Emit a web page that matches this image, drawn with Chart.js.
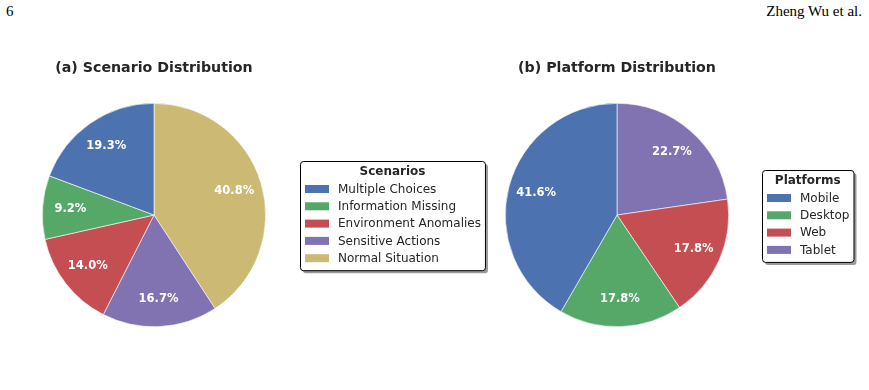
<!DOCTYPE html>
<html>
<head>
<meta charset="utf-8">
<script src="https://cdn.jsdelivr.net/npm/chart.js@4.4.1/dist/chart.umd.min.js"></script>
<style>
  body { margin: 0; background: #fff; width: 869px; height: 390px; position: relative; overflow: hidden; }
  .hdr { position: absolute; top: 3px; font-family: "Liberation Serif", "DejaVu Serif", serif; font-size: 15px; color: #000; }
  canvas { position: absolute; top: 0; }
</style>
</head>
<body>
<div class="hdr" style="left:6px">6</div>
<div class="hdr" style="right:7px">Zheng Wu et al.</div>
<canvas id="chartA" width="500" height="390" style="left:0"></canvas>
<canvas id="chartB" width="369" height="390" style="left:500px"></canvas>
<script>
// data (listed in legend order, matplotlib draws them counter-clockwise from 12 o'clock)
const scenarioLabels = ['Multiple Choices', 'Information Missing', 'Environment Anomalies', 'Sensitive Actions', 'Normal Situation'];
const scenarioValues = [19.3, 9.2, 14.0, 16.7, 40.8];
const platformLabels = ['Mobile', 'Desktop', 'Web', 'Tablet'];
const platformValues = [41.6, 17.8, 17.8, 22.7];
const palette = ['#4C72B0', '#55A868', '#C44E52', '#8172B2', '#CCB974'];

const FONT = '"DejaVu Sans", Verdana, sans-serif';

// percentage text inside each slice
const pctLabels = {
    id: 'pctLabels',
    afterDatasetsDraw(chart) {
        const ctx = chart.ctx;
        const meta = chart.getDatasetMeta(0);
        const vals = chart.data.datasets[0].data;
        ctx.save();
        ctx.fillStyle = '#fff';
        ctx.font = 'bold 11.5px ' + FONT;
        ctx.textAlign = 'center';
        ctx.textBaseline = 'middle';
        meta.data.forEach((arc, i) => {
            const p = arc.getProps(['x', 'y', 'startAngle', 'endAngle', 'outerRadius']);
            const a = (p.startAngle + p.endAngle) / 2;
            const r = p.outerRadius * 0.75;
            ctx.fillText(vals[i].toFixed(1) + '%', p.x + Math.cos(a) * r, p.y + Math.sin(a) * r);
        });
        ctx.restore();
    }
};

// framed legend box like matplotlib's (shadow + border)
const boxLegend = {
    id: 'boxLegend',
    afterDraw(chart, args, opts) {
        const ctx = chart.ctx;
        const names = opts.names, cols = opts.colors;
        const step = 17.3;
        ctx.save();
        ctx.font = '12px ' + FONT;
        let tw = 0;
        names.forEach(n => tw = Math.max(tw, ctx.measureText(n).width));
        const w = 5 + 24 + 9 + tw + 4;
        const h = 28 + (names.length - 1) * step + 12;
        const x = opts.left, y = opts.top;

        ctx.fillStyle = 'rgba(0,0,0,0.4)';
        ctx.beginPath();
        ctx.roundRect(x + 3, y + 3, w, h, 3);
        ctx.fill();
        ctx.fillStyle = '#fff';
        ctx.strokeStyle = '#000';
        ctx.lineWidth = 1;
        ctx.beginPath();
        ctx.roundRect(x + 0.5, y + 0.5, w, h, 3);
        ctx.fill();
        ctx.stroke();

        ctx.fillStyle = '#262626';
        ctx.textBaseline = 'middle';
        ctx.textAlign = 'center';
        ctx.font = 'bold 12px ' + FONT;
        ctx.fillText(opts.title, x + w / 2, y + 10.5);

        ctx.textAlign = 'left';
        ctx.font = '12px ' + FONT;
        names.forEach((n, i) => {
            const ry = y + 28 + i * step;
            ctx.fillStyle = cols[i];
            ctx.fillRect(x + 5, ry - 4, 24, 8);
            ctx.fillStyle = '#262626';
            ctx.fillText(n, x + 38, ry + 0.5);
        });
        ctx.restore();
    }
};

function makePie(id, title, labels, values, pad, legendPos, legendTitle) {
    const n = labels.length;
    // reverse so Chart.js' clockwise sweep gives matplotlib's counter-clockwise layout
    return new Chart(document.getElementById(id), {
        type: 'pie',
        data: {
            labels: labels.slice().reverse(),
            datasets: [{
                data: values.slice().reverse(),
                backgroundColor: palette.slice(0, n).reverse(),
                borderColor: '#ffffff',
                borderWidth: 0.6
            }]
        },
        options: {
            responsive: false,
            animation: false,
            devicePixelRatio: 1,
            rotation: 0,
            layout: { padding: pad },
            plugins: {
                legend: { display: false },
                tooltip: { enabled: false },
                title: {
                    display: true,
                    text: title,
                    color: '#262626',
                    font: { family: FONT, size: 14.2, weight: 'bold', lineHeight: 1.2 },
                    padding: { top: 10, bottom: 26 }
                },
                boxLegend: { left: legendPos[0], top: legendPos[1], title: legendTitle, names: labels, colors: palette.slice(0, n) }
            }
        },
        plugins: [pctLabels, boxLegend]
    });
}

makePie('chartA', '(a) Scenario Distribution', scenarioLabels, scenarioValues,
    { left: 42, right: 234, top: 50, bottom: 63 }, [300, 161], 'Scenarios');
makePie('chartB', '(b) Platform Distribution', platformLabels, platformValues,
    { left: 5, right: 140, top: 50, bottom: 63 }, [262, 170], 'Platforms');
</script>
</body>
</html>
